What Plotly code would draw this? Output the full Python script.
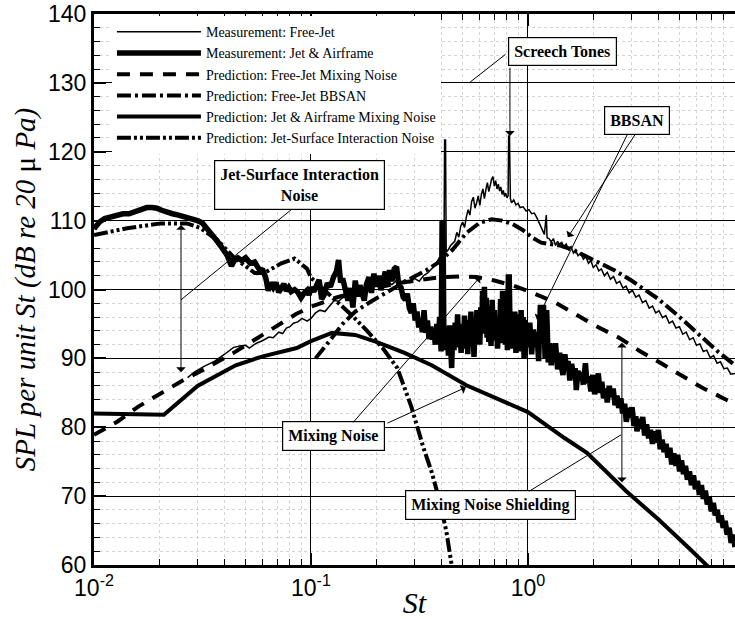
import plotly.graph_objects as go
import math

# ---------------- data ----------------
fj_meas_st = [0.027,0.029,0.032,0.036,0.040,0.044,0.047,0.050,0.052,0.056,0.060,0.064,0.067,0.071,0.074,0.077,0.080,0.083,0.087,0.091,0.096,0.100,
              0.105,0.110,0.116,0.122,0.128,0.134,0.140,0.147,0.155,0.162,0.170,0.178,0.186,0.195,0.205,0.215,0.225,0.236,0.248,0.26,0.27,0.285,0.30,0.315,
              0.33,0.345,0.36,0.375,0.39,0.405,0.41,0.413,0.417,0.42,0.43,0.44,0.46,0.47,0.48,0.49,0.50,0.51,0.52,0.53,0.54,0.55,0.56,0.57,0.58,0.59,0.60,
              0.61,0.62,0.63,0.64,0.65,0.66,0.67,0.68,0.69,0.70,0.71,0.72,0.73,0.74,0.75,0.76,0.77,0.78,0.79,0.80,0.81,0.815,0.822,0.83,0.84,0.86,0.88,0.90,
              0.92,0.95,0.98,1.01,1.04,1.07,1.10,1.13,1.16,1.19,1.215,1.225,
              1.25,1.28,1.31,1.34,1.37,1.40,1.43,1.46,1.50,1.54,1.58,1.62,1.66,1.70,1.75,1.80,1.85,1.90,1.95,2.00,2.06,2.12,2.18,2.25,2.32,2.40,2.48,2.56,
              2.65,2.74,2.83,2.93,3.03,3.14,3.25,3.37,3.49,3.62,3.75,3.88,4.02,4.17,4.32,4.48,4.64,4.81,4.99,5.17,5.36,5.56,5.77,5.98,6.20,6.43,6.67,6.92,
              7.17,7.44,7.71,8.00,8.30,8.60,9.00]
fj_meas_db = [87.2,88.0,88.8,89.6,90.6,91.6,91.8,91.9,91.5,92.2,92.6,93.1,93.0,93.8,93.6,94.4,94.6,95.1,95.3,95.8,95.4,95.8,
              96.6,97.0,96.8,97.6,98.4,98.3,98.8,99.0,99.6,99.4,100.3,100.0,100.9,100.5,101.0,100.6,101.2,100.7,101.3,100.8,101.4,101.0,101.6,101.2,
              102.0,102.4,103.0,103.6,104.6,105.0,104.6,121.7,121.7,105.4,105.8,106.4,107.0,108.3,107.6,109.2,109.8,109.0,110.5,111.6,110.8,112.8,113.4,111.8,112.6,113.6,112.2,
              113.8,114.6,113.2,114.5,115.5,114.2,115.4,116.0,116.4,115.0,115.8,114.6,115.3,114.3,114.9,113.8,114.4,113.5,114.0,113.3,113.6,122.3,122.3,113.2,112.6,113.0,112.3,112.5,
              111.9,112.0,111.4,111.6,111.0,111.1,110.4,109.6,108.6,108.0,110.8,107.5,
              107.4,106.9,107.4,106.4,107.0,106.5,106.9,106.2,106.6,105.8,106.2,105.3,105.7,104.9,105.3,104.4,104.8,103.8,104.2,103.2,103.6,102.7,103.0,102.0,102.5,101.5,101.9,100.9,
              101.2,100.2,100.5,99.5,99.9,98.9,99.2,98.1,98.4,97.3,97.6,96.6,96.9,95.9,96.2,95.1,95.4,94.4,94.6,93.5,93.8,92.7,93.0,91.9,92.1,91.0,91.2,90.1,
              90.4,89.3,89.5,88.5,88.6,87.7,87.8]

ja_meas_st = [0.0100,0.0106,0.0112,0.0120,0.0128,0.0136,0.0145,0.0155,0.0165,0.0175,0.0185,0.0195,0.0205,0.0217,0.0230,0.0245,0.0260,0.0280,0.0300,0.0315,
              0.0330,0.0350,0.0370,0.0390,0.0410,0.0430,0.0445,0.0460,0.0480,0.0500,0.0525,0.0550,0.0575,0.0600,0.0620,0.0635,0.0650,0.0670,0.0690,0.0710,
              0.0730,0.0750,0.0770,0.0790,0.0810,0.0840,0.0870,0.0900,0.0930,0.0960,0.0980,0.1000,0.1030,0.1060,0.1090,0.1120,0.1150,0.1190,0.1230,0.1270,
              0.1310,0.1340,0.1370,0.1400,0.1440,0.1480,0.1520,0.1560,0.1600,0.1640,0.1680,0.1720,0.1760,0.1800,0.1850,0.1900,0.1950,0.2000,0.2050,0.2100,
              0.2150,0.2200,0.2250,0.2300,0.2360,0.2420,0.2480,0.2540,0.2600,0.2660,0.2720,0.2780,0.2840,0.2900,0.2960,0.3020,0.3080,0.3140,0.3200,0.3260,
              0.3320,0.3380,0.3440,0.3500,0.3560,0.3620,0.3680,0.3740,0.3800,0.3860,0.3920,0.3980,0.4020,0.4060,0.4100,0.4150,0.4200,0.4250,0.4300,0.4350,
              0.4400,0.4450,0.4500,0.4560,0.4620,0.4680,0.4740,0.4800,0.4860,0.4920,0.4980,0.5040,0.5100,0.5160,0.5220,0.5280,0.5340,0.5400,0.5460,0.5520,
              0.5580,0.5640,0.5700,0.5760,0.5820,0.5880,0.5940,0.6000,0.6060,0.6120,0.6180,0.6240,0.6300,0.6360,0.6420,0.6480,0.6540,0.6600,0.6680,0.6760,
              0.6840,0.6920,0.7000,0.7080,0.7160,0.7240,0.7320,0.7400,0.7480,0.7560,0.7640,0.7720,0.7800,0.7880,0.7960,0.8040,0.8120,0.8200,0.8280,0.8360,
              0.8440,0.8520,0.8600,0.8700,0.8800,0.8900,0.9000,0.9100,0.9200,0.9300,0.9400,0.9500,0.9600,0.9700,0.9800,0.9900,1.0000,1.0200,1.0400,1.0600,
              1.0800,1.1000,1.1200,1.1400,1.1600,1.1800,1.2000,1.2200,
              1.24,1.26,1.28,1.30,1.32,1.34,1.37,1.40,1.42,1.45,1.48,1.51,1.53,1.56,1.59,1.62,1.65,1.67,1.70,1.73,1.77,1.80,1.84,1.87,1.91,1.95,1.99,2.03,
              2.07,2.11,2.15,2.19,2.23,2.28,2.32,2.37,2.42,2.47,2.52,2.57,2.62,2.68,2.73,2.79,2.84,2.90,2.96,3.02,3.08,3.14,3.18,3.24,3.31,3.38,3.45,3.52,
              3.60,3.67,3.75,3.83,3.91,3.99,4.07,4.15,4.24,4.33,4.42,4.51,4.60,4.70,4.80,4.90,5.00,5.10,5.21,5.32,5.43,5.55,5.67,5.79,5.91,6.04,6.17,6.30,
              6.43,6.57,6.71,6.85,7.00,7.15,7.30,7.45,7.61,7.77,7.94,8.11,8.28,8.46,8.64,8.82,9.00]
ja_meas_db = [108.8,109.8,110.3,110.6,110.8,111.0,111.0,111.3,111.7,111.9,111.9,111.8,111.5,111.2,111.0,110.8,110.6,110.3,110.0,109.7,
              109.0,108.0,107.0,106.0,105.0,103.4,104.3,104.6,104.2,104.6,103.8,104.0,103.0,102.8,101.6,99.8,101.0,100.3,101.0,99.6,
              100.2,100.8,99.8,100.3,99.7,100.0,99.6,98.8,99.5,99.9,99.2,100.3,99.7,100.8,101.4,98.6,99.2,100.9,100.4,101.8,
              102.6,104.3,101.0,101.6,99.6,98.4,100.2,97.4,101.3,99.0,100.6,99.4,98.4,100.7,101.8,99.5,102.3,100.4,102.0,99.9,
              101.4,102.6,100.6,102.8,101.2,103.0,103.3,100.6,100.3,98.9,98.5,99.4,97.3,96.6,98.0,95.5,96.8,94.5,95.8,93.8,
              97.0,93.7,95.5,92.8,94.6,92.7,94.1,92.0,95.0,93.0,96.0,91.0,109.6,109.6,92.0,94.5,91.2,93.6,90.4,94.8,
              91.8,88.6,93.9,91.2,95.2,92.0,96.4,91.6,94.0,90.8,95.0,91.4,96.2,92.6,95.6,90.6,94.8,91.8,96.8,92.2,
              95.2,90.2,94.0,92.6,97.0,93.4,96.4,92.0,97.4,93.6,99.8,95.0,100.4,94.2,98.8,93.0,97.6,92.4,96.2,91.8,
              98.5,93.8,97.0,92.6,95.6,91.4,94.5,93.0,98.6,92.2,99.8,93.4,97.6,92.0,96.4,91.2,101.8,101.8,93.0,96.6,
              91.4,95.4,92.8,96.8,90.8,95.0,92.4,96.4,91.0,97.0,92.6,96.0,90.0,95.6,91.6,94.8,92.0,95.2,90.6,94.2,
              92.0,93.8,89.6,97.4,97.4,97.4,90.0,97.0,
              89.4,92.2,89.0,91.0,89.6,92.2,88.4,90.8,89.2,87.6,90.6,88.2,89.6,86.8,89.2,87.6,88.6,85.4,88.2,86.8,88.0,86.2,89.3,86.4,87.4,85.2,87.6,84.8,
              86.4,87.8,85.0,86.6,84.2,85.6,83.6,86.0,84.4,85.6,83.2,84.6,82.8,84.2,82.0,83.4,80.8,82.8,81.4,82.9,80.2,81.6,79.4,81.2,79.8,81.5,78.8,80.4,
              78.4,79.6,77.6,79.4,77.8,79.6,76.8,78.2,76.4,77.6,75.6,77.0,74.6,76.2,74.4,76.0,73.6,75.2,73.2,74.4,72.4,73.6,71.6,73.0,71.0,72.2,70.2,71.6,
              69.6,70.8,68.8,69.8,67.8,69.0,67.2,68.0,66.2,67.2,65.4,66.4,64.4,65.4,63.2,64.4,62.6]

fj_mix_st = [0.01,0.0128,0.016,0.02,0.026,0.033,0.044,0.057,0.073,0.085,0.1,0.13,0.16,0.2,0.25,0.32,0.4,0.5,0.58,0.7,0.85,1.0,1.3,1.62,2.0,2.63,3.3,4.0,5.0,6.3,8.2,9.0]
fj_mix_db = [78.9,80.8,83.0,84.8,86.9,88.6,90.8,93.0,95.1,96.4,97.5,98.8,99.6,100.3,100.9,101.4,101.8,101.9,101.8,101.3,100.6,99.8,98.3,96.6,94.9,93.0,91.0,89.5,87.7,85.8,84.0,83.4]

bbsan_st = [0.105,0.115,0.125,0.14,0.16,0.19,0.22,0.26,0.3,0.34,0.39,0.45,0.52,0.6,0.68,0.76,0.85,0.95,1.05,1.15,1.25,1.4,1.6,1.8,2.0,2.5,3.0,3.5,4.0,5.0,6.0,7.5,9.0]
bbsan_db = [90.0,91.5,93.0,95.0,96.8,98.3,99.5,100.8,101.9,102.8,104.0,105.8,108.2,109.7,110.2,110.0,109.5,108.6,107.5,106.8,106.6,106.4,105.8,105.0,104.4,102.8,101.3,99.9,98.6,96.0,93.8,91.0,89.0]

ja_mix_st = [0.01,0.021,0.03,0.045,0.06,0.086,0.1,0.125,0.16,0.2,0.27,0.36,0.52,0.7,1.0,1.48,1.87,2.84,4.0,5.5,6.9]
ja_mix_db = [82.0,81.8,86.0,89.0,90.3,91.5,92.5,93.7,93.4,92.4,90.8,89.0,86.1,84.3,82.2,78.4,76.3,70.7,66.6,62.5,59.5]

jsi_st = [0.01,0.0142,0.0204,0.0268,0.031,0.037,0.044,0.055,0.061,0.073,0.084,0.096,0.1,0.13,0.155,0.18,0.214,0.25,0.29,0.33,0.36,0.39,0.42,0.445]
jsi_db = [107.9,108.9,109.6,109.6,108.9,107.2,104.7,102.4,102.4,103.8,104.5,103.0,101.7,98.5,96.2,94.1,91.5,88.6,83.0,77.0,73.5,69.5,65.0,60.0]

names = ["Measurement: Free-Jet", "Measurement: Jet & Airframe", "Prediction: Free-Jet Mixing Noise",
         "Prediction: Free-Jet BBSAN", "Prediction: Jet & Airframe Mixing Noise", "Prediction: Jet-Surface Interaction Noise"]

# ---------------- figure ----------------
fig = go.Figure()
fig.add_trace(go.Scatter(x=fj_meas_st, y=fj_meas_db, mode="lines", name=names[0],
                         line=dict(color="black", width=1.5)))
fig.add_trace(go.Scatter(x=ja_meas_st, y=ja_meas_db, mode="lines", name=names[1],
                         line=dict(color="black", width=5.5)))
fig.add_trace(go.Scatter(x=fj_mix_st, y=fj_mix_db, mode="lines", name=names[2],
                         line=dict(color="black", width=4, dash="13px,10px")))
fig.add_trace(go.Scatter(x=bbsan_st, y=bbsan_db, mode="lines", name=names[3],
                         line=dict(color="black", width=4, dash="14px,4px,3px,4px")))
fig.add_trace(go.Scatter(x=ja_mix_st, y=ja_mix_db, mode="lines", name=names[4],
                         line=dict(color="black", width=4)))
fig.add_trace(go.Scatter(x=jsi_st, y=jsi_db, mode="lines", name=names[5],
                         line=dict(color="black", width=4, dash="14px,3px,3px,3px,3px,3px")))

L = math.log10
box_font = dict(family="Liberation Serif, Times New Roman, serif", size=16, color="black")

def box(text, st, db):
    fig.add_annotation(x=L(st), y=db, xref="x", yref="y", text="<b>%s</b>" % text, showarrow=False,
                       font=box_font, bgcolor="white", bordercolor="black", borderwidth=1.2, borderpad=5)

def arrow(st0, db0, st1, db1, head=1, side="end"):
    fig.add_annotation(x=L(st1), y=db1, ax=L(st0), ay=db0, xref="x", yref="y", axref="x", ayref="y",
                       text="", showarrow=True, arrowhead=head if head else 0, arrowside=side,
                       arrowsize=1.6, arrowwidth=1, arrowcolor="black", startarrowhead=head if head else 0,
                       startarrowsize=1.6)

# Screech Tones
box("Screech Tones", 10 ** 0.161, 134.6)
arrow(10 ** -0.083, 132.4, 10 ** -0.083, 122.3)
arrow(10 ** -0.097, 134.3, 10 ** -0.267, 130.1, head=0)
# BBSAN
box("BBSAN", 10 ** 0.502, 124.6)
arrow(10 ** 0.498, 122.7, 10 ** 0.184, 107.6)
arrow(10 ** 0.461, 122.7, 10 ** 0.041, 95.6)
# Jet-Surface Interaction Noise
box("Jet-Surface Interaction<br>Noise", 10 ** -1.051, 115.2)
arrow(10 ** -1.083, 111.8, 10 ** -1.599, 98.5, head=0)
arrow(10 ** -1.599, 109.6, 10 ** -1.599, 88.0, side="end+start")
# Mixing Noise
box("Mixing Noise", 10 ** -0.894, 78.7)
arrow(10 ** -0.811, 80.5, 10 ** -0.221, 101.8)
arrow(10 ** -0.654, 80.5, 10 ** -0.286, 85.8)
# Mixing Noise Shielding
box("Mixing Noise Shielding", 10 ** -0.171, 68.7)
arrow(10 ** 0.0, 70.6, 10 ** 0.429, 78.9, head=0)
arrow(10 ** 0.433, 92.5, 10 ** 0.433, 72.0, side="end+start")

minor_x = [m * 10 ** e for e in (-2, -1, 0) for m in range(2, 10)]

fig.update_layout(
    width=735, height=619,
    margin=dict(l=94, r=0, t=14, b=54, autoexpand=False),
    paper_bgcolor="white", plot_bgcolor="white",
    showlegend=True,
    legend=dict(x=0.028, y=0.996, xanchor="left", yanchor="top", bgcolor="white",
                font=dict(family="Liberation Serif, Times New Roman, serif", size=14, color="black"),
                tracegroupgap=0, itemwidth=84),
    xaxis=dict(type="log", range=[-2, math.log10(9.0)], tickvals=[0.01, 0.1, 1],
               ticktext=["10<sup>-2</sup>", "10<sup>-1</sup>", "10<sup>0</sup>"], automargin=False,
               ticks="inside", ticklen=12, tickwidth=2, tickcolor="black",
               showline=True, linewidth=3, linecolor="black", mirror="ticks",
               showgrid=True, gridcolor="black", gridwidth=1,
               minor=dict(tickvals=minor_x, ticks="inside", ticklen=6, tickwidth=1, tickcolor="black",
                          showgrid=True, gridcolor="#d4d4d4", griddash="dot", gridwidth=1),
               tickfont=dict(family="Liberation Sans, Arial, sans-serif", size=23, color="black"),
               title=dict(text="<i>St</i>", standoff=0,
                          font=dict(family="Liberation Serif, Times New Roman, serif", size=30, color="black")),
               zeroline=False),
    yaxis=dict(range=[60, 140], dtick=10, tick0=60, automargin=False,
               ticks="inside", ticklen=12, tickwidth=2, tickcolor="black",
               showline=True, linewidth=3, linecolor="black", mirror=False,
               showgrid=True, gridcolor="black", gridwidth=1,
               minor=dict(dtick=2, ticks="inside", ticklen=6, tickwidth=1, tickcolor="black",
                          showgrid=True, gridcolor="#d4d4d4", griddash="dot", gridwidth=1),
               tickfont=dict(family="Liberation Sans, Arial, sans-serif", size=23, color="black"),
               title=dict(text="<i>SPL per unit St (dB re 20 </i>μ<i> Pa)</i>", standoff=4,
                          font=dict(family="Liberation Serif, Times New Roman, serif", size=29, color="black")),
               zeroline=False),
)

fig.write_html("out.html", config={"displayModeBar": False},
               post_script="document.body.style.margin='0px';")
